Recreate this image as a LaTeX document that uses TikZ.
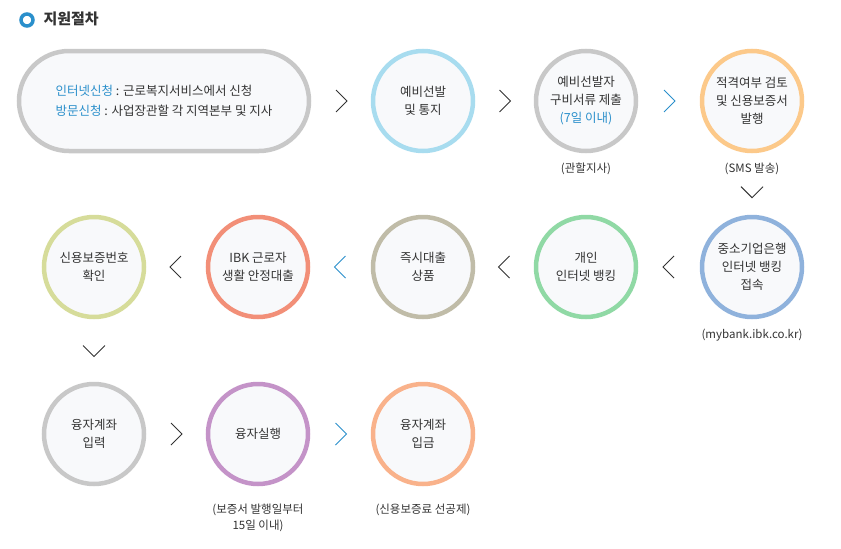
\documentclass[tikz,border=0pt]{standalone}
\usepackage{fontspec}
\setmainfont{Noto Sans CJK KR}
\usepackage{tikz}
\usetikzlibrary{positioning}
\usetikzlibrary{calc}

\definecolor{ibkblue}{HTML}{2A8FCB}
\definecolor{txtgray}{HTML}{333333}
\definecolor{stepfill}{HTML}{F8F9FB}
\definecolor{ringsky}{HTML}{A8DCEF}
\definecolor{ringgray}{HTML}{C8C8C8}
\definecolor{ringorange}{HTML}{FCC98A}
\definecolor{ringblue}{HTML}{8FB2DC}
\definecolor{ringgreen}{HTML}{90D9A5}
\definecolor{ringtan}{HTML}{C0BCA8}
\definecolor{ringsalmon}{HTML}{F28F78}
\definecolor{ringolive}{HTML}{D6DC9A}
\definecolor{ringpurple}{HTML}{C493C8}
\definecolor{ringpeach}{HTML}{F9B28B}

\begin{document}
\begin{tikzpicture}[x=1pt,y=-1pt,
            % ----- Node definitions ----- %
            stepcircle/.style = {
                circle, draw=#1, line width=4.5pt, fill=stepfill,
                minimum size=100pt, inner sep=0pt,
                align=center, font=\fontsize{12.5}{18}\selectfont, text=txtgray
            },
            notetext/.style = {
                align=center, font=\fontsize{11.5}{16}\selectfont, text=txtgray
            },
            chev/.style = {line width=1pt, draw=#1},
    ]
    \useasboundingbox (0,0) rectangle (841,549);

    % ----- Title ----- %
    \node[circle, draw=ibkblue, line width=3.5pt, fill=white, minimum size=12pt, inner sep=0pt] (icon) at (27,20) {};
    \node[anchor=west, font=\fontsize{15}{18}\selectfont\bfseries, text=txtgray] (title) at (40,19) {지원절차};

    % ----- Node constructions ----- %
    \node[draw=ringgray, line width=4.5pt, fill=stepfill, rounded corners=50pt,
          minimum width=290pt, minimum height=100pt, align=left,
          font=\fontsize{12.5}{20}\selectfont, text=txtgray] (apply) at (164,101)
          {{\color{ibkblue}인터넷신청} : 근로복지서비스에서 신청\\
           {\color{ibkblue}방문신청} : 사업장관할 각 지역본부 및 지사};
    \node[stepcircle=ringsky] (select) at (423,101) {예비선발\\및 통지};
    \node[stepcircle=ringgray] (docs) at (586,101) {예비선발자\\구비서류 제출\\{\color{ibkblue}(7일 이내)}};
    \node[stepcircle=ringorange] (issue) at (752,101) {적격여부 검토\\및 신용보증서\\발행};

    \node[stepcircle=ringblue] (bank) at (752,267) {중소기업은행\\인터넷 뱅킹\\접속};
    \node[stepcircle=ringgreen] (personal) at (586,267) {개인\\인터넷 뱅킹};
    \node[stepcircle=ringtan] (instant) at (423,267) {즉시대출\\상품};
    \node[stepcircle=ringsalmon] (ibkloan) at (258,267) {IBK 근로자\\생활 안정대출};
    \node[stepcircle=ringolive] (confirm) at (94,267) {신용보증번호\\확인};

    \node[stepcircle=ringgray] (account) at (94,434) {융자계좌\\입력};
    \node[stepcircle=ringpurple] (execute) at (258,434) {융자실행};
    \node[stepcircle=ringpeach] (deposit) at (423,434) {융자계좌\\입금};

    % ----- Notes ----- %
    \node[notetext, below=6pt of docs] (docsnote) {(관할지사)};
    \node[notetext, below=6pt of issue] (issuenote) {(SMS 발송)};
    \node[notetext, below=6pt of bank] (banknote) {(mybank.ibk.co.kr)};
    \node[notetext, below=14pt of execute] (executenote) {(보증서 발행일부터\\15일 이내)};
    \node[notetext, below=14pt of deposit, anchor=north] (depositnote) {(신용보증료 선공제)};

    % ----- Chevrons ----- %
    \foreach \a/\b/\c in {apply.east/select.west/black!80, select/docs/black!80, docs/issue/ibkblue,
                          account/execute/black!80, execute/deposit/ibkblue}
        \draw[chev=\c] ($(\a)!0.5!(\b)+(-5,-11)$) -- ($(\a)!0.5!(\b)+(6,0)$) -- ($(\a)!0.5!(\b)+(-5,11)$);
    \foreach \a/\b/\c in {bank/personal/black!80, personal/instant/black!80, instant/ibkloan/ibkblue,
                          ibkloan/confirm/black!80}
        \draw[chev=\c] ($(\a)!0.5!(\b)+(5,-11)$) -- ($(\a)!0.5!(\b)+(-6,0)$) -- ($(\a)!0.5!(\b)+(5,11)$);
    \draw[chev=black!80] ($(issuenote)!0.5!(bank.north)+(-11,-5)$) -- ($(issuenote)!0.5!(bank.north)+(0,6)$) -- ($(issuenote)!0.5!(bank.north)+(11,-5)$);
    \draw[chev=black!80] ($(confirm.south)!0.5!(account.north)+(-11,-5)$) -- ($(confirm.south)!0.5!(account.north)+(0,6)$) -- ($(confirm.south)!0.5!(account.north)+(11,-5)$);
\end{tikzpicture}
\end{document}
